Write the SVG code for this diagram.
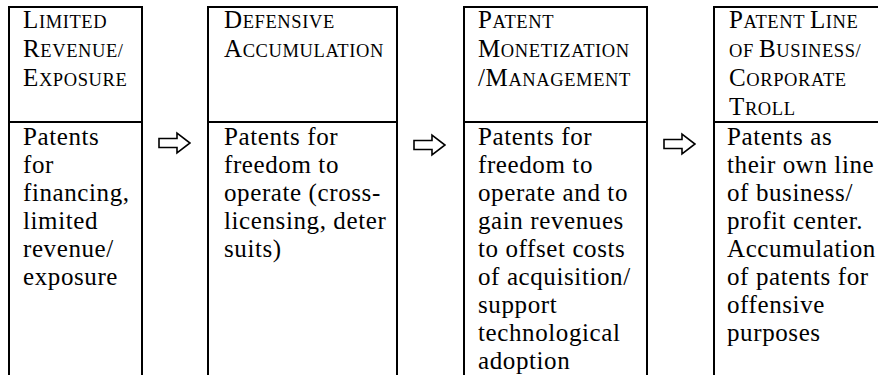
<svg xmlns="http://www.w3.org/2000/svg" xmlns:xlink="http://www.w3.org/1999/xlink" width="878" height="375" viewBox="0 0 878 375">
<style>
.ln{stroke:#000;stroke-width:2;fill:none}
.hd{font-family:"Liberation Serif","Times New Roman",serif;font-size:25px;letter-spacing:0.6px;fill:#000}
.s{font-size:18.5px}
.bd{font-family:"Liberation Serif","Times New Roman",serif;font-size:25px;letter-spacing:0.6px;fill:#000}
.arr{fill:#fff;stroke:#000;stroke-width:1.6;stroke-linejoin:miter}
</style>
<defs>
<path id="blockArrow" class="arr" d="M-16,-4.5 L2,-4.5 L2,-10 L15,0 L2,10 L2,4.5 L-16,4.5 Z"/>
</defs>
<rect width="878" height="375" fill="#fff"/>

<g id="node1">
<path class="ln" d="M9,390 V7 H142 V390 M9,122 H142"/>
<text class="hd"><tspan x="23" y="28">L<tspan class="s">IMITED</tspan></tspan><tspan x="23" y="57">R<tspan class="s">EVENUE/</tspan></tspan><tspan x="23" y="86">E<tspan class="s">XPOSURE</tspan></tspan></text>
<text class="bd"><tspan x="23" y="145">Patents</tspan><tspan x="23" y="173">for</tspan><tspan x="23" y="201">financing,</tspan><tspan x="23" y="229">limited</tspan><tspan x="23" y="257">revenue/</tspan><tspan x="23" y="285">exposure</tspan></text>
</g>

<g id="node2">
<path class="ln" d="M208,390 V7 H397 V390 M208,122 H397"/>
<text class="hd"><tspan x="224" y="28">D<tspan class="s">EFENSIVE</tspan></tspan><tspan x="224" y="57">A<tspan class="s">CCUMULATION</tspan></tspan></text>
<text class="bd"><tspan x="224" y="145">Patents for</tspan><tspan x="224" y="173">freedom to</tspan><tspan x="224" y="201">operate (cross-</tspan><tspan x="224" y="229">licensing, deter</tspan><tspan x="224" y="257">suits)</tspan></text>
</g>

<g id="node3">
<path class="ln" d="M464,390 V7 H647 V390 M464,122 H647"/>
<text class="hd"><tspan x="478" y="28">P<tspan class="s">ATENT</tspan></tspan><tspan x="478" y="57">M<tspan class="s">ONETIZATION</tspan></tspan><tspan x="478" y="86">/M<tspan class="s">ANAGEMENT</tspan></tspan></text>
<text class="bd"><tspan x="478" y="145">Patents for</tspan><tspan x="478" y="173">freedom to</tspan><tspan x="478" y="201">operate and to</tspan><tspan x="478" y="229">gain revenues</tspan><tspan x="478" y="257">to offset costs</tspan><tspan x="478" y="285">of acquisition/</tspan><tspan x="478" y="313">support</tspan><tspan x="478" y="341">technological</tspan><tspan x="478" y="369">adoption</tspan></text>
</g>

<g id="node4">
<path class="ln" d="M714,390 V7 H890 M714,122 H890"/>
<text class="hd"><tspan x="729" y="28">P<tspan class="s">ATENT </tspan>L<tspan class="s">INE</tspan></tspan><tspan x="729" y="57"><tspan class="s">OF </tspan>B<tspan class="s">USINESS/</tspan></tspan><tspan x="729" y="86">C<tspan class="s">ORPORATE</tspan></tspan><tspan x="729" y="115">T<tspan class="s">ROLL</tspan></tspan></text>
<text class="bd"><tspan x="727" y="145">Patents as</tspan><tspan x="727" y="173">their own line</tspan><tspan x="727" y="201">of business/</tspan><tspan x="727" y="229">profit center.</tspan><tspan x="727" y="257">Accumulation</tspan><tspan x="727" y="285">of patents for</tspan><tspan x="727" y="313">offensive</tspan><tspan x="727" y="341">purposes</tspan></text>
</g>

<g id="connectors">
<use xlink:href="#blockArrow" transform="translate(175,143)"/>
<use xlink:href="#blockArrow" transform="translate(430,145)"/>
<use xlink:href="#blockArrow" transform="translate(680,144)"/>
</g>
</svg>
